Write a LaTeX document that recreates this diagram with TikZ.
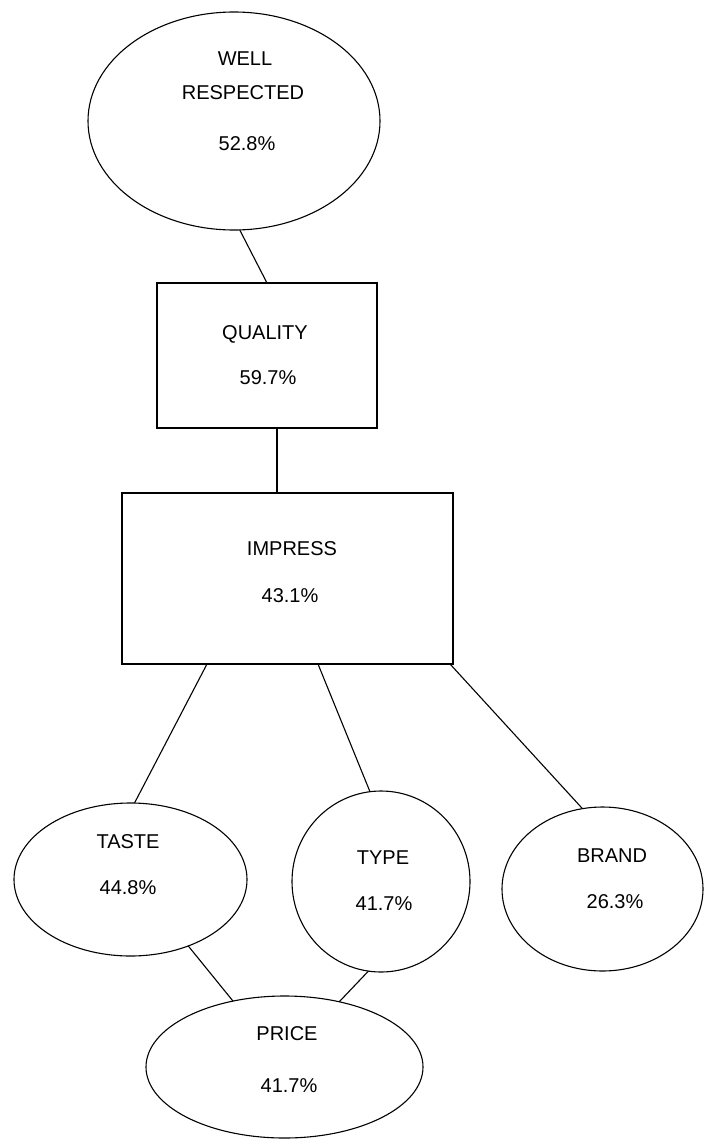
\documentclass[tikz,border=0pt]{standalone}
\usepackage{fontspec}
\setmainfont{Liberation Sans}
\usetikzlibrary{shapes.geometric,calc}
\tikzset{
  oval/.style={draw, ellipse, line width=1.1pt, inner sep=0pt, outer sep=0pt},
  boxnode/.style={draw, rectangle, line width=1.1pt, inner sep=0pt, outer sep=0pt},
  txt/.style={anchor=base, inner sep=0pt, font=\fontsize{20}{24}\selectfont},
  link/.style={line width=1.1pt}
}
\begin{document}
\begin{tikzpicture}[x=1pt,y=-1pt]
\useasboundingbox (0,0) rectangle (704,1140);
% shapes
\node[oval, minimum width=292pt, minimum height=218pt] (wr) at (234,121) {};
\node[boxnode, minimum width=220pt, minimum height=145pt] (q) at (267,355.5) {};
\node[boxnode, minimum width=331pt, minimum height=171pt] (imp) at (287.5,578.5) {};
\node[oval, minimum width=233pt, minimum height=153pt] (taste) at (130.5,879.5) {};
\node[oval, minimum width=178pt, minimum height=181pt] (type) at (381,881.5) {};
\node[oval, minimum width=201pt, minimum height=164pt] (brand) at (602.5,889) {};
\node[oval, minimum width=277pt, minimum height=142pt] (price) at (284.5,1067) {};
% texts
\node[txt] (wr1) at (245,65.2) {WELL};
\node[txt] (wr2) at (243,99.2) {RESPECTED};
\node[txt] (wr3) at (247,150.2) {52.8\%};
\node[txt] (q1) at (265,339.2) {QUALITY};
\node[txt] (q2) at (268,384.2) {59.7\%};
\node[txt] (imp1) at (292,555.2) {IMPRESS};
\node[txt] (imp2) at (290,602.2) {43.1\%};
\node[txt] (taste1) at (128,848.2) {TASTE};
\node[txt] (taste2) at (128,894.2) {44.8\%};
\node[txt] (type1) at (383,864.2) {TYPE};
\node[txt] (type2) at (384,910.2) {41.7\%};
\node[txt] (brand1) at (612,862.2) {BRAND};
\node[txt] (brand2) at (615,908.2) {26.3\%};
\node[txt] (price1) at (287,1040.2) {PRICE};
\node[txt] (price2) at (289,1092.2) {41.7\%};
% connectors
\draw[link] (wr.-87) -- (q.north);
\draw[link] ([xshift=10pt]q.south) -- ([xshift=10pt]q.south |- imp.north);
\draw[link] ([xshift=-80.5pt]imp.south) -- (taste.87);
\draw[link] ([xshift=30.5pt]imp.south) -- (type.97);
\draw[link] ([xshift=162.5pt]imp.south) -- (brand.104);
\draw[link] (taste.-49) -- (price.128);
\draw[link] (type.-98) -- (price.50);
\end{tikzpicture}
\end{document}
